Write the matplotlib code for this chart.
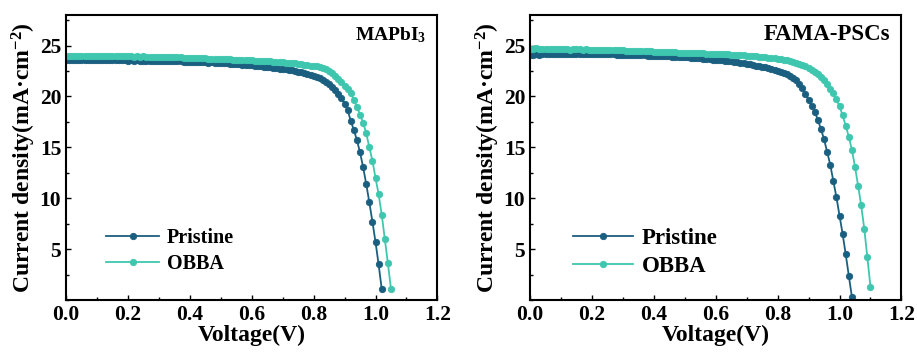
import numpy as np
import matplotlib
matplotlib.use('Agg')
import matplotlib.pyplot as plt
from matplotlib.ticker import MultipleLocator

plt.rcParams['font.family'] = 'Liberation Serif'
plt.rcParams['font.weight'] = 'bold'
plt.rcParams['mathtext.default'] = 'regular'

# J-V data, voltage sweep in 0.01 V steps starting at 0 V
step = 0.01

mapbi3_pristine = [
    23.60, 23.58, 23.62, 23.57, 23.60, 23.59, 23.61, 23.56, 23.58, 23.60,
    23.57, 23.59, 23.55, 23.58, 23.56, 23.60, 23.57, 23.54, 23.56, 23.55,
    23.53, 23.56, 23.52, 23.54, 23.51, 23.53, 23.50, 23.52, 23.49, 23.51,
    23.48, 23.50, 23.46, 23.48, 23.45, 23.47, 23.44, 23.45, 23.42, 23.43,
    23.40, 23.41, 23.38, 23.39, 23.36, 23.36, 23.33, 23.34, 23.31, 23.30,
    23.28, 23.27, 23.24, 23.23, 23.20, 23.19, 23.16, 23.14, 23.11, 23.08,
    23.05, 23.02, 22.99, 22.96, 22.93, 22.89, 22.86, 22.82, 22.78, 22.74,
    22.70, 22.66, 22.61, 22.56, 22.51, 22.45, 22.39, 22.32, 22.24, 22.15,
    22.05, 21.93, 21.79, 21.63, 21.44, 21.22, 20.96, 20.65, 20.28, 19.84,
    19.30, 18.65, 17.60, 16.70, 15.70, 14.50, 13.05, 11.40, 9.60, 7.70,
    5.70, 3.50, 1.10]

mapbi3_obba = [
    24.00, 23.98, 24.02, 23.97, 24.00, 23.99, 24.01, 23.96, 23.98, 24.00,
    23.97, 23.99, 23.95, 23.98, 23.96, 24.00, 23.97, 23.94, 23.96, 23.95,
    23.93, 23.95, 23.92, 23.94, 23.91, 23.93, 23.90, 23.92, 23.89, 23.90,
    23.88, 23.89, 23.86, 23.87, 23.85, 23.86, 23.83, 23.84, 23.81, 23.82,
    23.80, 23.80, 23.77, 23.78, 23.75, 23.75, 23.73, 23.73, 23.70, 23.70,
    23.68, 23.67, 23.66, 23.64, 23.63, 23.62, 23.60, 23.59, 23.57, 23.56,
    23.55, 23.53, 23.52, 23.50, 23.48, 23.46, 23.44, 23.42, 23.40, 23.38,
    23.36, 23.33, 23.30, 23.27, 23.24, 23.20, 23.16, 23.12, 23.07, 23.02,
    23.00, 22.95, 22.88, 22.78, 22.65, 22.50, 22.30, 22.05, 21.75, 21.40,
    21.05, 20.70, 20.35, 19.65, 19.00, 18.20, 17.40, 16.40, 15.00, 13.70,
    12.00, 10.40, 8.40, 6.00, 3.60, 1.10]

fama_pristine = [
    24.10, 24.12, 24.15, 24.11, 24.14, 24.16, 24.13, 24.17, 24.15, 24.18,
    24.16, 24.19, 24.17, 24.20, 24.18, 24.21, 24.19, 24.20, 24.18, 24.19,
    24.17, 24.18, 24.16, 24.17, 24.15, 24.16, 24.13, 24.14, 24.12, 24.12,
    24.10, 24.10, 24.08, 24.08, 24.06, 24.06, 24.04, 24.03, 24.02, 24.01,
    24.00, 23.99, 23.97, 23.96, 23.94, 23.93, 23.91, 23.90, 23.88, 23.86,
    23.85, 23.83, 23.81, 23.79, 23.77, 23.75, 23.72, 23.69, 23.66, 23.63,
    23.60, 23.57, 23.54, 23.51, 23.47, 23.44, 23.40, 23.36, 23.31, 23.26,
    23.20, 23.15, 23.10, 23.04, 22.98, 22.92, 22.85, 22.78, 22.70, 22.62,
    22.55, 22.45, 22.33, 22.20, 22.03, 21.82, 21.57, 21.25, 20.80, 20.25,
    19.70, 19.10, 18.50, 17.70, 16.80, 15.80, 14.55, 13.30, 11.70, 10.10,
    8.30, 6.50, 4.50, 2.40, 0.30]

fama_obba = [
    24.70, 24.66, 24.72, 24.64, 24.68, 24.65, 24.69, 24.63, 24.66, 24.64,
    24.62, 24.66, 24.63, 24.61, 24.64, 24.62, 24.65, 24.60, 24.63, 24.61,
    24.60, 24.58, 24.61, 24.57, 24.59, 24.56, 24.57, 24.54, 24.55, 24.52,
    24.53, 24.50, 24.51, 24.48, 24.49, 24.46, 24.46, 24.44, 24.44, 24.42,
    24.41, 24.40, 24.39, 24.38, 24.36, 24.36, 24.34, 24.33, 24.31, 24.31,
    24.30, 24.29, 24.27, 24.27, 24.25, 24.24, 24.23, 24.22, 24.20, 24.20,
    24.19, 24.17, 24.16, 24.15, 24.13, 24.12, 24.10, 24.08, 24.06, 24.04,
    24.02, 24.00, 23.97, 23.95, 23.92, 23.89, 23.86, 23.82, 23.78, 23.74,
    23.70, 23.65, 23.60, 23.54, 23.47, 23.40, 23.31, 23.21, 23.09, 22.96,
    22.80, 22.62, 22.41, 22.17, 21.90, 21.58, 21.20, 20.78, 20.30, 19.72,
    19.02, 18.15, 17.12, 16.05, 14.75, 13.10, 11.25, 9.30, 7.00, 4.20, 1.30]

labels = ['Pristine', 'OBBA']
colors = ['#1b5f80', '#3ec7ae']

# title, curves, title size, legend size, legend anchor
panels = [
    ('MAPbI$_3$', [mapbi3_pristine, mapbi3_obba], 14, 14.5, (0.06, 0.027)),
    ('FAMA-PSCs', [fama_pristine, fama_obba], 16.5, 16.5, (0.06, 0.01)),
]

fig = plt.figure(figsize=(9.17, 3.54), dpi=100)
lefts = [0.072, 0.578]

for left, (title, curves, tsize, lsize, anchor) in zip(lefts, panels):
    ax = fig.add_axes([left, 0.1525, 0.405, 0.805])
    for J, lab, c in zip(curves, labels, colors):
        V = np.arange(len(J)) * step
        ax.plot(V, J, '-o', color=c, lw=1.3, ms=4.6, mfc=c, mec=c,
                mew=0.6, label=lab)
    ax.set_xlim(0, 1.2)
    ax.set_ylim(0, 28)
    ax.set_xticks([0.0, 0.2, 0.4, 0.6, 0.8, 1.0, 1.2])
    ax.set_yticks([5, 10, 15, 20, 25])
    ax.xaxis.set_minor_locator(MultipleLocator(0.1))
    ax.yaxis.set_minor_locator(MultipleLocator(2.5))
    ax.tick_params(which='both', direction='in', labelsize=15.5, width=1.0)
    ax.tick_params(which='major', length=3.5)
    ax.tick_params(which='minor', length=2)
    for lbl in ax.get_xticklabels() + ax.get_yticklabels():
        lbl.set_fontweight('bold')
    for s in ax.spines.values():
        s.set_linewidth(1.5)
    ax.set_xlabel('Voltage(V)', fontsize=17, fontweight='bold', labelpad=0)
    ax.set_ylabel('Current density(mA·cm$^{-2}$)', fontsize=17,
                  fontweight='bold', labelpad=1)
    ax.text(0.97, 0.93, title, transform=ax.transAxes, ha='right', va='center',
            fontsize=tsize, fontweight='bold')
    ax.legend(loc='lower left', bbox_to_anchor=anchor, frameon=False,
              prop={'size': lsize, 'weight': 'bold'}, handlelength=2.6,
              handletextpad=0.4, labelspacing=0.3, markerscale=1.0)

fig.savefig('out.png', dpi=100)
